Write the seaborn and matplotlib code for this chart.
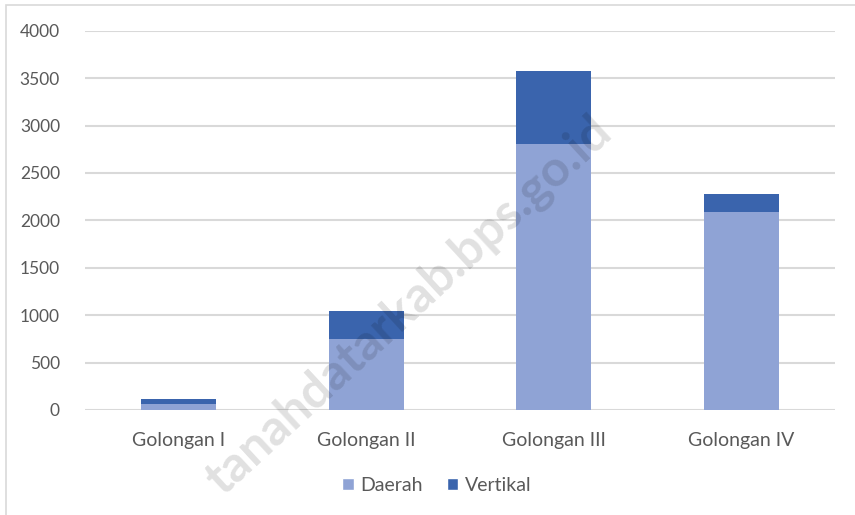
import numpy as np
import pandas as pd
import matplotlib.pyplot as plt
import seaborn as sns
from matplotlib.patches import Patch, Rectangle

# data
golongan = ['Golongan I', 'Golongan II', 'Golongan III', 'Golongan IV']
daerah = [60, 745, 2805, 2088]
vertikal = [60, 302, 772, 187]
yticks = [0, 500, 1000, 1500, 2000, 2500, 3000, 3500, 4000]

c_daerah = '#8FA3D5'
c_vertikal = '#3A64AD'
txt = '#595959'

sns.set_theme(style='white')
plt.rcParams['font.family'] = ['Lato', 'DejaVu Sans']

df = pd.DataFrame({'golongan': golongan, 'daerah': daerah, 'vertikal': vertikal})
df['total'] = df['daerah'] + df['vertikal']

fig = plt.figure(figsize=(8.55, 5.15), dpi=100)
ax = fig.add_axes([0.0994, 0.2039, 0.877, 0.7365])

# stacked: draw total in dark, then the lower part on top
sns.barplot(data=df, x='golongan', y='total', color=c_vertikal, width=0.4,
            saturation=1, linewidth=0, ax=ax, zorder=2)
sns.barplot(data=df, x='golongan', y='daerah', color=c_daerah, width=0.4,
            saturation=1, linewidth=0, ax=ax, zorder=3)

ax.set_ylim(0, 4000)
ax.set_xlim(-0.5, 3.5)
ax.set_yticks(yticks)
ax.yaxis.grid(True, color='#D9D9D9', linewidth=1.5, zorder=0)
ax.set_axisbelow(True)
for s in ax.spines.values():
    s.set_visible(False)
ax.set_xlabel('')
ax.set_ylabel('')
ax.tick_params(axis='y', labelsize=12.5, colors=txt, length=0, pad=18)
ax.tick_params(axis='x', labelsize=14, colors=txt, length=0, pad=16)

handles = [Patch(facecolor=c_daerah, label='Daerah'),
           Patch(facecolor=c_vertikal, label='Vertikal')]
leg = fig.legend(handles=handles, loc='center', bbox_to_anchor=(0.511, 0.058),
                 ncol=2, frameon=False, fontsize=14, handlelength=0.6,
                 handleheight=0.6, handletextpad=0.35, columnspacing=1.2)
for t in leg.get_texts():
    t.set_color(txt)

# watermark (sized so it stays inside the picture)
fig.text(614 / 855, 1 - 136 / 515, 'tanahdatarkab.bps.go.id', rotation=42.7,
         rotation_mode='anchor', ha='right', va='baseline', fontsize=36,
         fontweight='bold', color='black', alpha=0.12, zorder=10)

# chart border
fig.patches.append(Rectangle((0.007, -0.01), 1.0, 1.0, transform=fig.transFigure,
                             fill=False, edgecolor='#D9D9D9', linewidth=1.2))

fig.savefig('out.png', dpi=100)
